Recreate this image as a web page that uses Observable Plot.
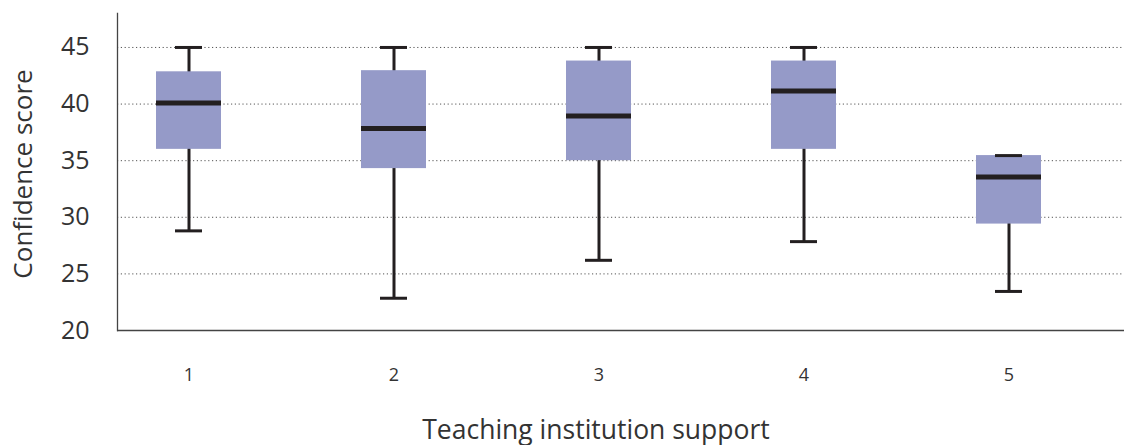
<!DOCTYPE html>
<html><head><meta charset="utf-8">
<script src="https://cdn.jsdelivr.net/npm/d3@7"></script>
<script src="https://cdn.jsdelivr.net/npm/@observablehq/plot@0.6"></script>
<style>body{margin:0;background:#fff} #chart{width:1124px;height:445px}</style>
</head><body><div id="chart"></div>
<script>
const categories = ["1", "2", "3", "4", "5"];
const whiskerLow = [28.8, 22.85, 26.2, 27.85, 23.45];
const q1 = [36.0, 34.3, 35.0, 36.0, 29.4];
const median = [40.1, 37.85, 38.95, 41.15, 33.55];
const q3 = [42.85, 42.95, 43.8, 43.8, 35.45];
const whiskerHigh = [45, 45, 45, 45, 35.45];
const yTicks = [20, 25, 30, 35, 40, 45];
const gridTicks = [25, 30, 35, 40, 45];
const xTitle = "Teaching institution support";
const yTitle = "Confidence score";

const data = categories.map((c, i) => ({
  support: c, low: whiskerLow[i], q1: q1[i], median: median[i], q3: q3[i], high: whiskerHigh[i]
}));

const ink = "#231f20";
const chart = Plot.plot({
  width: 1124, height: 445,
  marginLeft: 117, marginRight: 0, marginTop: 13, marginBottom: 115,
  style: {fontFamily: "'Open Sans', sans-serif", color: "#333", background: "#fff"},
  x: {type: "band", domain: categories, range: [83.85, 1112.35], paddingInner: 0.684, paddingOuter: 0.342, align: 0.5},
  y: {domain: [20, 48]},
  marks: [
    Plot.ruleY(gridTicks, {stroke: "#555", strokeWidth: 1, strokeDasharray: "1.2,2.6"}),
    Plot.ruleX(data, {x: "support", y1: "low", y2: "high", stroke: ink, strokeWidth: 3}),
    Plot.barY(data, {x: "support", y1: "q1", y2: "q3", fill: "#959ac8"}),
    Plot.tickY(data, {x: "support", y: "median", stroke: ink, strokeWidth: 5}),
    Plot.tickY(data, {x: "support", y: "low", stroke: ink, strokeWidth: 3, insetLeft: 19, insetRight: 19}),
    Plot.tickY(data, {x: "support", y: "high", stroke: ink, strokeWidth: 3, insetLeft: 19, insetRight: 19}),
    Plot.ruleY([20], {stroke: "#444", strokeWidth: 1.3}),
    Plot.frame({anchor: "left", stroke: "#444", strokeWidth: 1.3}),
    Plot.axisY({ticks: yTicks, tickSize: 0, tickPadding: 28, fontSize: 25, label: null}),
    Plot.axisX({tickSize: 0, tickPadding: 38, fontSize: 18, label: null}),
    Plot.text([yTitle], {frameAnchor: "left", textAnchor: "middle", lineAnchor: "middle", rotate: -90, dx: -94, dy: 2, fontSize: 26, fill: "#333"}),
    Plot.text([xTitle], {frameAnchor: "bottom", dx: -25, dy: 108, fontSize: 26.5, fill: "#333"})
  ]
});
document.getElementById("chart").appendChild(chart);
</script>
</body></html>
